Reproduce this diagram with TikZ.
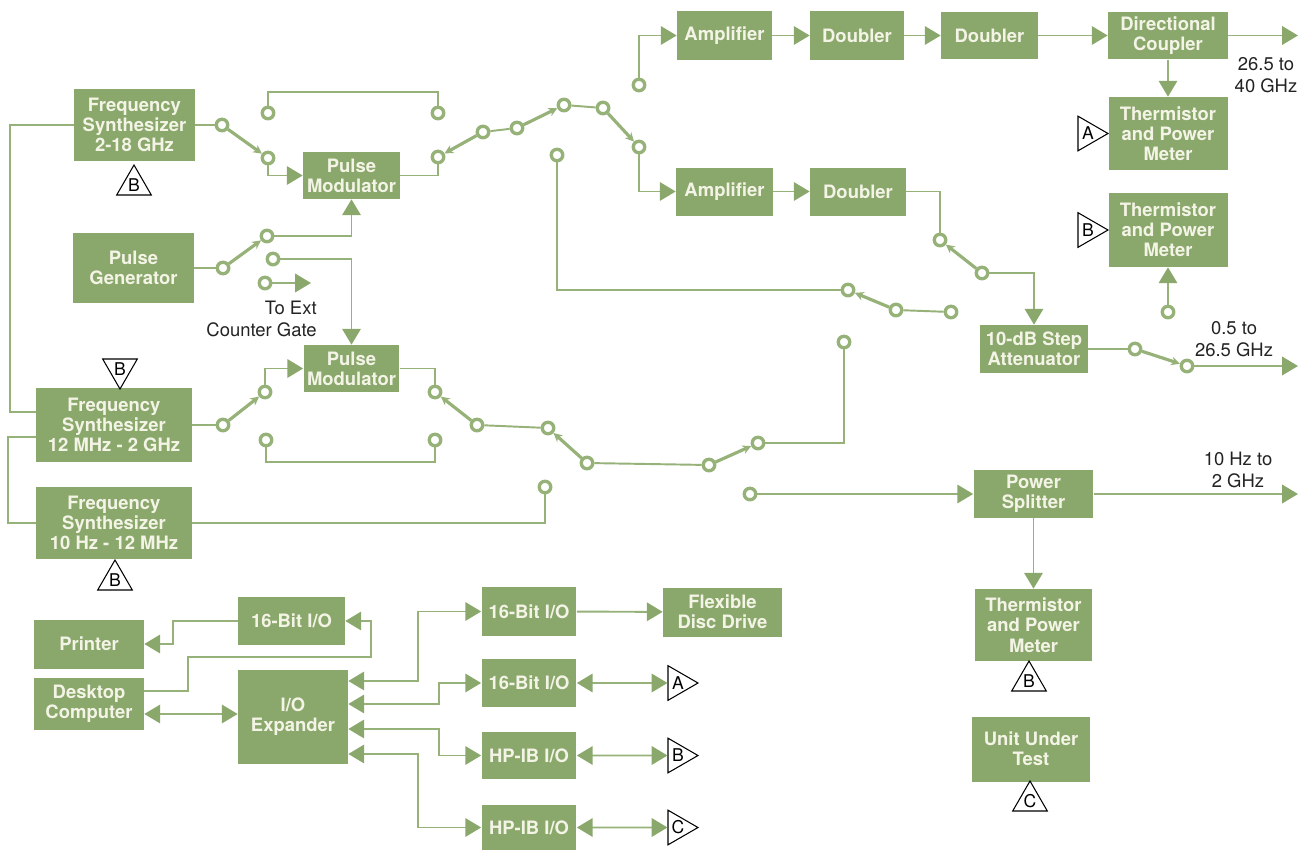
\documentclass[tikz,border=0pt]{standalone}
\usepackage{fontspec}
\setsansfont{TeX Gyre Heros}
\usepackage{tikz}
\usetikzlibrary{arrows.meta,shapes.geometric,calc,positioning}
\definecolor{boxgreen}{RGB}{138,168,108}
\definecolor{linegreen}{RGB}{150,178,120}
\definecolor{boxtext}{RGB}{244,244,230}
\definecolor{labeltext}{RGB}{35,35,35}

\tikzset{
  >={Triangle[length=9pt,width=10.5pt,color=boxgreen]},
  blk/.style={rectangle, fill=boxgreen, text=boxtext, align=center, inner sep=0pt,
    font=\sffamily\bfseries\fontsize{10.5}{11.5}\selectfont},
  contact/.style={circle, draw=linegreen, line width=1.9pt, fill=white, minimum size=0.23cm, inner sep=0pt},
  conn/.style={draw=linegreen, line width=1.1pt},
  arm/.style={draw=linegreen, line width=1.8pt, -{Stealth[length=5pt,width=5pt]}},
  tri/.style={regular polygon, regular polygon sides=3, draw=black, line width=0.6pt, fill=white,
    minimum size=0.8cm, inner sep=0pt, font=\sffamily\fontsize{10}{10}\selectfont},
  lbl/.style={text=labeltext, align=center, inner sep=0pt, font=\sffamily\fontsize{10.5}{12.5}\selectfont}
}

\begin{document}
\begin{tikzpicture}[x=0.02cm,y=-0.02cm]

\path[use as bounding box, fill=white] (0,0) rectangle (1302,849);

\node[blk, minimum width=2.42cm, minimum height=1.46cm] (fs1) at (134.5,125) {Frequency\\Synthesizer\\2-18 GHz};
\node[blk, minimum width=1.94cm, minimum height=0.94cm] (pm1) at (351.5,175.5) {Pulse\\Modulator};
\node[blk, minimum width=2.42cm, minimum height=1.42cm] (pgen) at (133.5,268) {Pulse\\Generator};
\node[blk, minimum width=1.92cm, minimum height=0.94cm] (pm2) at (351.5,368.5) {Pulse\\Modulator};
\node[blk, minimum width=3.12cm, minimum height=1.48cm] (fs2) at (114,425) {Frequency\\Synthesizer\\12 MHz - 2 GHz};
\node[blk, minimum width=3.12cm, minimum height=1.44cm] (fs3) at (114,523) {Frequency\\Synthesizer\\10 Hz - 12 MHz};

\node[blk, minimum width=1.9cm, minimum height=0.98cm] (amp1) at (724.5,35.5) {Amplifier};
\node[blk, minimum width=1.88cm, minimum height=0.98cm] (dbl1) at (857,35.5) {Doubler};
\node[blk, minimum width=1.94cm, minimum height=0.96cm] (dbl2) at (989.5,35.5) {Doubler};
\node[blk, minimum width=2.4cm, minimum height=0.96cm] (dcpl) at (1168,35.5) {Directional\\Coupler};
\node[blk, minimum width=2.38cm, minimum height=1.46cm] (thA) at (1168,133.5) {Thermistor\\and Power\\Meter};
\node[blk, minimum width=2.38cm, minimum height=1.48cm] (thB) at (1168,230) {Thermistor\\and Power\\Meter};
\node[blk, minimum width=1.94cm, minimum height=0.96cm] (amp2) at (724.5,191.5) {Amplifier};
\node[blk, minimum width=1.92cm, minimum height=0.96cm] (dbl3) at (858,191.5) {Doubler};
\node[blk, minimum width=2.16cm, minimum height=0.96cm] (att) at (1034,349) {10-dB Step\\Attenuator};
\node[blk, minimum width=2.4cm, minimum height=0.96cm] (psplit) at (1033.5,494) {Power\\Splitter};
\node[blk, minimum width=2.36cm, minimum height=1.44cm] (thC) at (1033.5,625) {Thermistor\\and Power\\Meter};
\node[blk, minimum width=2.38cm, minimum height=1.3cm] (uut) at (1031,749) {Unit Under\\Test};

\node[blk, minimum width=2.2cm, minimum height=0.98cm] (printer) at (89,644) {Printer};
\node[blk, minimum width=2.2cm, minimum height=1.04cm] (desk) at (89,704) {Desktop\\Computer};
\node[blk, minimum width=2.14cm, minimum height=0.96cm] (io16a) at (291.5,621) {16-Bit I/O};
\node[blk, minimum width=2.2cm, minimum height=1.88cm] (exp) at (293,717) {I/O\\Expander};
\node[blk, minimum width=1.9cm, minimum height=0.98cm] (io16b) at (529,611.5) {16-Bit I/O};
\node[blk, minimum width=2.38cm, minimum height=0.98cm] (disc) at (722.5,612) {Flexible\\Disc Drive};
\node[blk, minimum width=1.9cm, minimum height=0.96cm] (io16c) at (529,683) {16-Bit I/O};
\node[blk, minimum width=1.9cm, minimum height=0.94cm] (hpib1) at (529,755.5) {HP-IB I/O};
\node[blk, minimum width=1.9cm, minimum height=0.9cm] (hpib2) at (529,827.5) {HP-IB I/O};

\node[tri] (tB1) at (134,185) {B};
\node[tri, shape border rotate=180] (tB2) at (120,369) {B};
\node[tri] (tB3) at (115,580) {B};
\node[tri, shape border rotate=-90] (tA1) at (1088,133.5) {A};
\node[tri, shape border rotate=-90] (tB4) at (1088,230) {B};
\node[tri] (tB5) at (1029,681) {B};
\node[tri] (tC1) at (1030,801) {C};
\node[tri, shape border rotate=-90] (tA2) at (678,683) {A};
\node[tri, shape border rotate=-90] (tB6) at (678,755.5) {B};
\node[tri, shape border rotate=-90] (tC2) at (678,827.5) {C};

\node[lbl, align=right, anchor=east] (gate) at (317,319) {To Ext\\Counter Gate};
\node[lbl] (lbl40) at (1266,75) {26.5 to\\40 GHz};
\node[lbl] (lbl265) at (1234,339) {0.5 to\\26.5 GHz};
\node[lbl] (lbl2g) at (1238,470) {10 Hz to\\2 GHz};

\node[contact] (c1) at (222,125) {};
\node[contact] (c2) at (268,113) {};
\node[contact] (c3) at (268,158) {};
\node[contact] (c4) at (438,113) {};
\node[contact] (c5) at (438,157) {};
\node[contact] (c6) at (483,132) {};
\node[contact] (c7) at (517,128) {};
\node[contact] (c8) at (564,105) {};
\node[contact] (c9) at (603,108) {};
\node[contact] (c10) at (639,85) {};
\node[contact] (c11) at (639,147) {};
\node[contact] (c12) at (557,155) {};
\node[contact] (c13) at (848,290) {};
\node[contact] (c14) at (896,310) {};
\node[contact] (c15) at (951,312) {};
\node[contact] (c16) at (982,273) {};
\node[contact] (c17) at (940,240) {};
\node[contact] (c18) at (1135,349) {};
\node[contact] (c19) at (1187,366) {};
\node[contact] (c20) at (1168,312) {};

\node[contact] (p1) at (223,268) {};
\node[contact] (p2) at (267,236) {};
\node[contact] (p3) at (273,259) {};
\node[contact] (p4) at (265,283) {};
\coordinate (gateend) at (311,283);

\node[contact] (q1) at (223,425) {};
\node[contact] (q2) at (265,392) {};
\node[contact] (q3) at (266,440) {};
\node[contact] (q4) at (435,392) {};
\node[contact] (q5) at (435,440) {};
\node[contact] (q6) at (477,425) {};
\node[contact] (q7) at (548,428) {};
\node[contact] (q8) at (587,463) {};
\node[contact] (q9) at (545,487) {};
\node[contact] (q10) at (709,465) {};
\node[contact] (q11) at (758,443) {};
\node[contact] (q12) at (844,342) {};
\node[contact] (q13) at (750,494) {};

\coordinate (out1) at (1298,35.5);
\coordinate (out2) at (1298,366);
\coordinate (out3) at (1298,494);

\draw[conn] (fs1.west) -- ++(-64,0) |- ($(fs2.west)+(0,-13)$);
\draw[conn] ($(fs2.west)+(0,12)$) -- ++(-28,0) |- (fs3.west);

\draw[conn] (fs1) -- (c1);
\draw[arm] (c1) -- (c3);
\draw[conn] (c2) -- ++(0,-21) -| (c4);
\draw[conn,->] (c3) |- (pm1.west);
\draw[conn] (pm1.east) -| (c5);
\draw[arm] (c6) -- (c5);
\draw[conn] (c6) -- (c7);
\draw[arm] (c7) -- (c8);
\draw[conn] (c8) -- (c9);
\draw[arm] (c9) -- (c11);
\draw[conn,->] (c10) |- (amp1.west);
\draw[conn,->] (c11) |- (amp2.west);
\draw[conn,->] (amp1) -- (dbl1);
\draw[conn,->] (dbl1) -- (dbl2);
\draw[conn,->] (dbl2) -- (dcpl);
\draw[conn,->] (dcpl) -- (out1);
\draw[conn,->] (dcpl) -- (thA);
\draw[conn,->] (amp2) -- (dbl3);
\draw[conn] (dbl3.east) -| (c17);
\draw[arm] (c16) -- (c17);
\draw[conn,->] (c16) -| (att.north);
\draw[conn] (c12) |- (c13);
\draw[arm] (c14) -- (c13);
\draw[conn] (c14) -- (c15);
\draw[conn] (att) -- (c18);
\draw[arm] (c18) -- (c19);
\draw[conn,->] (c19) -- (out2);
\draw[conn,->] (c20) -- (thB);

\draw[conn] (pgen) -- (p1);
\draw[arm] (p1) -- (p2);
\draw[conn,->] (p2) -| (pm1.south);
\draw[conn,->] (p3) -| (pm2.north);
\draw[conn,->] (p4) -- (gateend);

\draw[conn] (fs2) -- (q1);
\draw[arm] (q1) -- (q2);
\draw[conn,->] (q2) |- (pm2.west);
\draw[conn] (q3) -- ++(0,22) -| (q5);
\draw[conn] (pm2.east) -| (q4);
\draw[arm] (q6) -- (q4);
\draw[conn] (q6) -- (q7);
\draw[arm] (q8) -- (q7);
\draw[conn] (q8) -- (q10);
\draw[arm] (q10) -- (q11);
\draw[conn] (q11) -| (q12);
\draw[conn] (fs3.east) -| (q9);
\draw[conn,->] (q13) -- (psplit);
\draw[conn,->] (psplit) -- (out3);
\draw[conn,->] (psplit) -- (thC);

\draw[conn,->] (io16a.west) -- ++(-65,0) |- (printer.east);
\draw[conn,->] ($(desk.east)+(0,-13)$) -- ++(44,0) |- (371,657) |- (io16a.east);
\draw[conn,<->] ($(desk.east)+(0,10)$) -- ($(exp.west)+(0,-3)$);
\draw[conn,<->] ($(exp.east)+(0,-36)$) -- ++(70,0) |- (io16b.west);
\draw[conn,<->] ($(exp.east)+(0,-13)$) -- ++(91,0) |- (io16c.west);
\draw[conn,<->] ($(exp.east)+(0,12)$) -- ++(91,0) |- (hpib1.west);
\draw[conn,<->] ($(exp.east)+(0,37)$) -- ++(70,0) |- (hpib2.west);
\draw[conn,->] (io16b) -- (disc);
\draw[conn,<->] (io16c) -- (tA2);
\draw[conn,<->] (hpib1) -- (tB6);
\draw[conn,<->] (hpib2) -- (tC2);

\end{tikzpicture}
\end{document}
